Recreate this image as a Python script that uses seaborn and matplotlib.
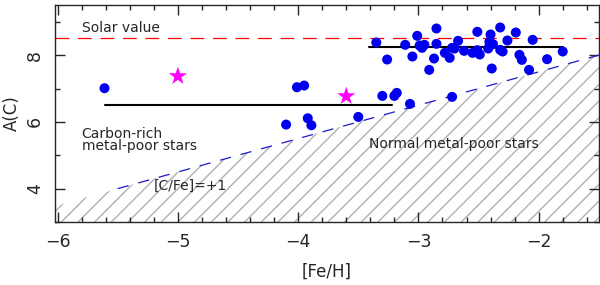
import numpy as np
import pandas as pd
import matplotlib
matplotlib.use("Agg")
import matplotlib.pyplot as plt
import seaborn as sns

# [Fe/H] and A(C) of the normal carbon-rich / metal-poor sample (blue dots)
feh = [-5.61, -4.10, -4.01, -3.95, -3.92, -3.89, -3.50, -3.30, -3.20, -3.18,
       -3.07, -3.35, -3.26, -3.11, -3.05, -3.01, -2.99, -2.95, -2.97, -2.91,
       -2.87, -2.85, -2.85, -2.78, -2.74, -2.72, -2.72, -2.70, -2.67, -2.62,
       -2.55, -2.51, -2.51, -2.49, -2.42, -2.40, -2.41, -2.39, -2.38, -2.32,
       -2.32, -2.30, -2.26, -2.19, -2.16, -2.14, -2.08, -2.05, -1.93, -1.80]
ac = [7.01, 5.92, 7.04, 7.09, 6.11, 5.90, 6.15, 6.78, 6.78, 6.87,
      6.54, 8.38, 7.87, 8.31, 7.96, 8.58, 8.29, 8.31, 8.22, 7.56,
      7.90, 8.80, 8.34, 8.07, 7.92, 6.75, 8.22, 8.20, 8.43, 8.13,
      8.07, 8.70, 8.15, 8.02, 8.20, 8.62, 8.40, 7.60, 8.33, 8.83,
      8.16, 8.11, 8.44, 8.68, 8.01, 7.86, 7.56, 8.46, 7.88, 8.11]

# magenta stars
star_feh = [-5.00, -3.60]
star_ac = [7.37, 6.77]

# mean levels (black segments)
mean_x = [[-5.61, -3.22], [-3.41, -1.80]]
mean_y = [6.5, 8.25]

solar_ac = 8.5
cfe_x = [-5.5, -1.5]          # [C/Fe]=+1 line, A(C) = [Fe/H] + 9.5
cfe_offset = 9.5
hatch_x = [-6.05, -1.5]

sns.set_style("ticks")
plt.rcParams["font.family"] = ["DejaVu Sans"]
plt.rcParams["hatch.linewidth"] = 1.0
plt.rcParams["hatch.color"] = "#b0b0b0"

fig = plt.figure(figsize=(6, 2.85), dpi=100)
ax = fig.add_axes([0.092, 0.221, 0.906, 0.761])

# hatched "normal" region
hx = np.array(hatch_x)
ax.fill_between(hx, 3.0, hx + cfe_offset, facecolor="none", edgecolor="#b0b0b0",
                hatch="//", linewidth=0, zorder=0)

ax.axhline(solar_ac, color="red", lw=0.9, dashes=(11, 7), zorder=1)
cx = np.array(cfe_x)
sns.lineplot(x=cx, y=cx + cfe_offset, ax=ax, color="#1a1acc", lw=0.9,
             zorder=1).lines[-1].set_dashes((9, 8))

for xs, yv in zip(mean_x, mean_y):
    sns.lineplot(x=xs, y=[yv, yv], ax=ax, color="black", lw=1.5, zorder=2)

sns.scatterplot(x=feh, y=ac, ax=ax, color="#0000ee", s=52, edgecolor="none",
                zorder=3)
sns.scatterplot(x=star_feh, y=star_ac, ax=ax, color="magenta", marker="*",
                s=190, edgecolor="none", zorder=3)

fs = 10
ax.text(-5.8, 8.8, "Solar value", fontsize=fs, va="center")
ax.text(-5.8, 5.45, "Carbon-rich\nmetal-poor stars", fontsize=fs, va="center",
        linespacing=0.8)
ax.text(-5.2, 4.08, "[C/Fe]=+1", fontsize=fs, va="center")
ax.text(-3.41, 5.35, "Normal metal-poor stars", fontsize=fs, va="center")

ax.set_xlim(-6.02, -1.5)
ax.set_ylim(3.0, 9.5)
ax.set_xticks([-6, -5, -4, -3, -2])
ax.set_xticklabels(["\u22126", "\u22125", "\u22124", "\u22123", "\u22122"])
ax.set_yticks([4, 6, 8])
ax.set_xticks(np.arange(-6, -1.5, 0.2), minor=True)
ax.set_yticks([3, 5, 7, 9], minor=True)
ax.tick_params(which="both", direction="in", top=True, right=True,
               labelsize=12.5, width=1)
ax.tick_params(which="major", length=7, pad=8)
ax.tick_params(which="minor", length=3.5)
for lab in ax.get_yticklabels():
    lab.set_rotation(90)
    lab.set_va("center")
for sp in ax.spines.values():
    sp.set_linewidth(1)
ax.set_xlabel("[Fe/H]", fontsize=12, labelpad=8)
ax.set_ylabel("A(C)", fontsize=12, labelpad=4)

fig.savefig("out.png", dpi=100)
